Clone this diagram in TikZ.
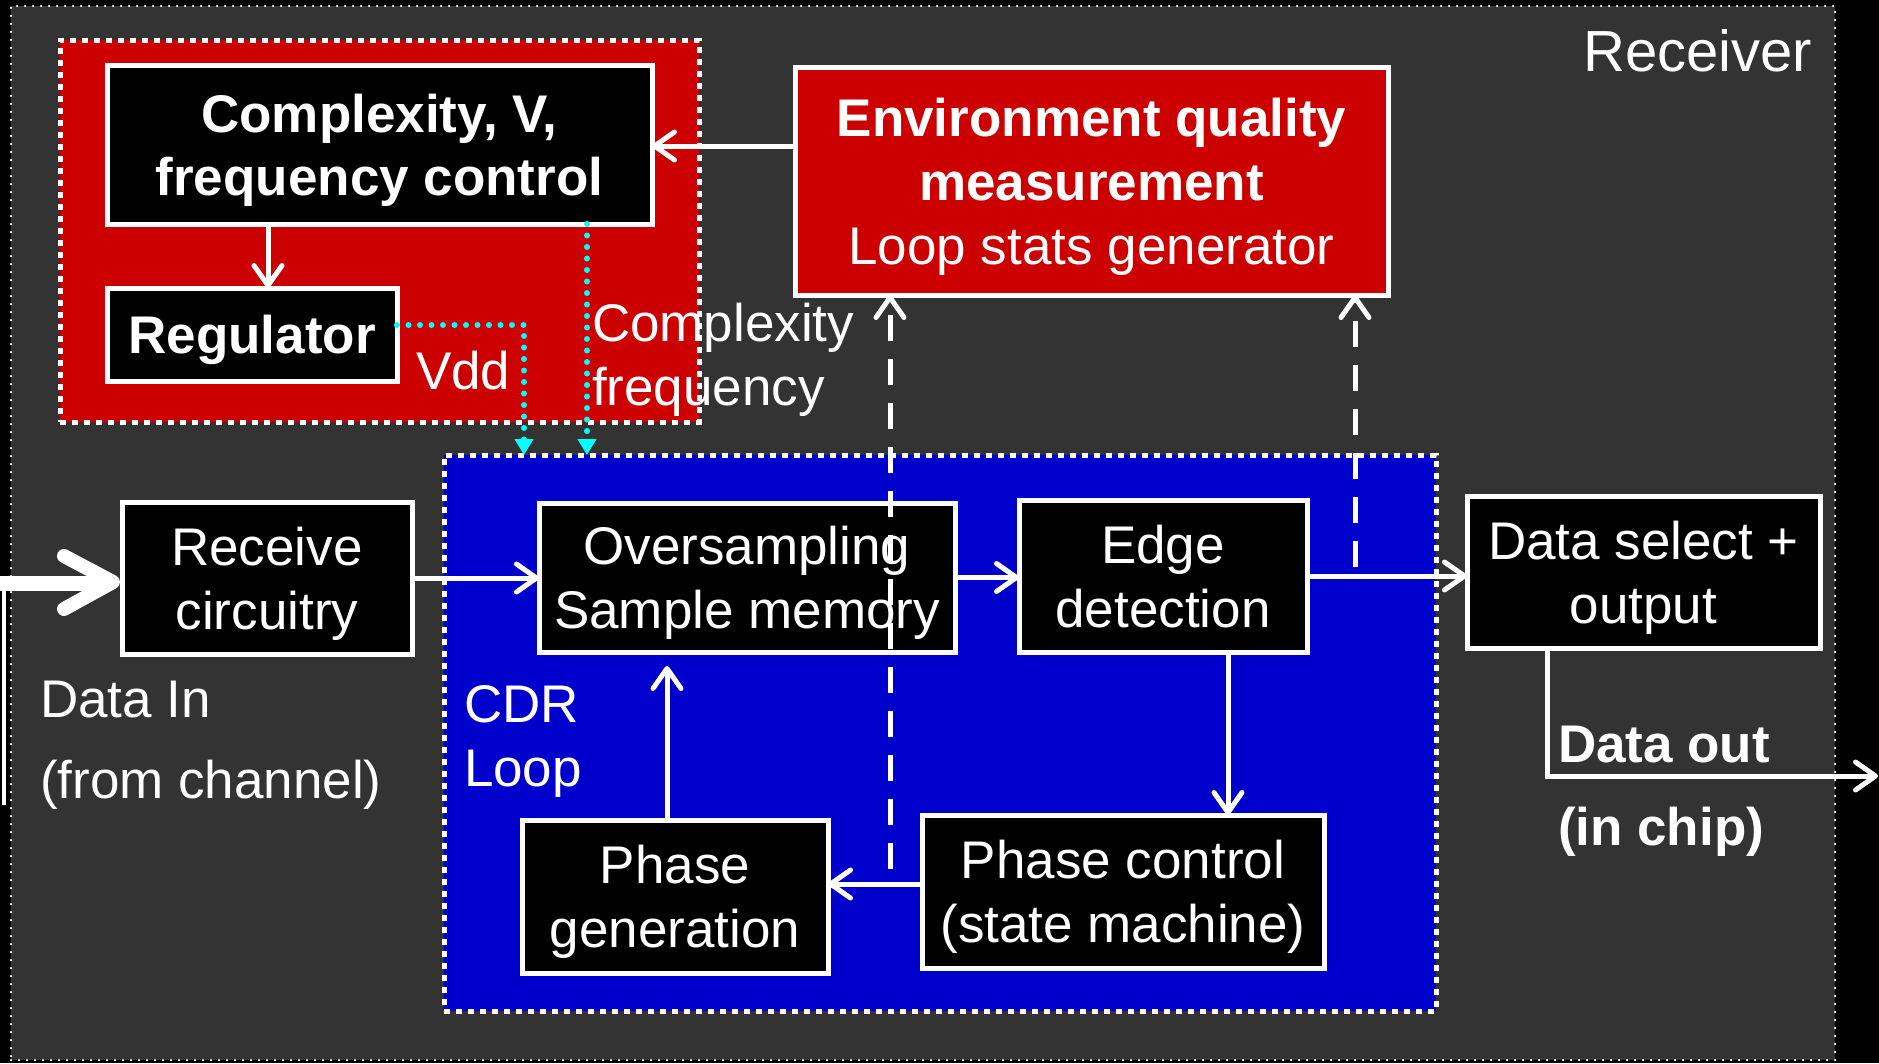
\documentclass[tikz,border=0pt]{standalone}
\usepackage{fontspec}
\setmainfont{Liberation Sans}
\usetikzlibrary{arrows.meta,calc}
\definecolor{bggray}{HTML}{333333}
\definecolor{boxred}{HTML}{CC0000}
\definecolor{boxblue}{HTML}{0000CC}
\definecolor{sigcyan}{HTML}{00FFFF}
\begin{document}
\begin{tikzpicture}[x=1pt,y=-1pt,
  blk/.style={draw=white, line width=5pt, fill=black, text=white, inner sep=0pt, outer sep=0pt, align=center, text depth=0pt, font=\fontsize{53}{64}\selectfont},
  bblk/.style={blk, font=\fontsize{53}{63}\selectfont\bfseries},
  grp/.style={draw=white, line width=5pt, dash pattern=on 6pt off 6pt, inner sep=0pt, outer sep=0pt},
  lbl/.style={text=white, inner sep=0pt, outer sep=0pt, anchor=west, align=left, font=\fontsize{53}{64}\selectfont},
  blbl/.style={lbl, font=\fontsize{53}{64}\selectfont\bfseries},
  arr/.style={draw=white, line width=5pt, -{Straight Barb[length=20pt,width=28pt,round]}},
  darr/.style={arr, dash pattern=on 26pt off 18pt},
  cyarr/.style={draw=sigcyan, line width=6pt, line cap=round, dash pattern=on 0pt off 11.5pt, -{Triangle[length=16pt,width=18pt,fill=sigcyan]}},
]
\fill[black] (0,0) rectangle (1879,1063);
\useasboundingbox (0,0) rectangle (1879,1063);

% outer receiver area
\node[draw=white, fill=bggray, line width=2.5pt, dash pattern=on 0pt off 8pt, line cap=round,
      minimum width=1824pt, minimum height=1054pt, inner sep=0pt, outer sep=0pt] (rx) at (923,533) {};
% group boxes
\node[grp, fill=boxred, minimum width=639pt, minimum height=382pt] (ctl) at (379.5,231) {};
\node[grp, fill=boxblue, minimum width=992pt, minimum height=556pt] (cdr) at (940,733) {};

% blocks
\node[bblk, minimum width=545pt, minimum height=159pt] (cfc) at (379.5,144.5) {Complexity, V,\\frequency control};
\node[bblk, minimum width=290pt, minimum height=93pt] (reg) at (252,334.5) {Regulator};
\node[blk, fill=boxred, minimum width=593pt, minimum height=228pt] (env) at (1091.5,181) {\textbf{Environment quality}\\\textbf{measurement}\\Loop stats generator};
\node[blk, minimum width=290pt, minimum height=152pt] (rcv) at (267,578) {Receive\\circuitry};
\node[blk, minimum width=416pt, minimum height=149pt] (ovs) at (747,577.5) {Oversampling\\Sample memory};
\node[blk, minimum width=288pt, minimum height=152pt] (edge) at (1163,576) {Edge\\detection};
\node[blk, minimum width=353pt, minimum height=152pt] (dsel) at (1643.5,572) {Data select +\\output};
\node[blk, minimum width=402pt, minimum height=153pt] (pctl) at (1123,891.5) {Phase control\\(state machine)};
\node[blk, minimum width=306pt, minimum height=153pt] (pgen) at (675,896.5) {Phase\\generation};

% labels
\node[lbl, anchor=east, font=\fontsize{58}{64}\selectfont] (recvl) at (1812,51) {Receiver};
\node[lbl] (vddl) at (416,371) {Vdd};
\node[lbl] (cfl) at (592,360) {Complexity\\frequency};
\node[lbl] (cdrl) at (464,741) {CDR\\Loop};
\node[lbl] (dil1) at (40,700) {Data In};
\node[lbl] (dil2) at (40,785) {(from channel)};
\node[blbl] (dol1) at (1558,745) {Data out};
\node[blbl] (dol2) at (1558,832) {(in chip)};

% connectors in the control group
\coordinate (yEnv) at (0,146);
\draw[arr] (env.west |- yEnv) -- (cfc.east |- yEnv);
\coordinate (xReg) at (268,0);
\draw[arr] (cfc.south -| xReg) -- (reg.north -| xReg);
\coordinate (vddc) at (524,325);
\draw[cyarr] (reg.east |- vddc) -- (vddc) -- (vddc |- cdr.north);
\coordinate (xCf) at (587,0);
\draw[cyarr] (cfc.south -| xCf) -- (cdr.north -| xCf);

% data input
\coordinate (din) at (0,583);
\draw[white, line width=15pt] (din) -- (104,583);
\draw[white, line width=14pt, line cap=round, line join=round] (64,556) -- (113,582) -- (64,609);
\draw[white, line width=4pt] (4,590) -- (4,805);

% data path
\draw[arr] (rcv.east) -- (rcv.east -| ovs.west);
\draw[arr] (ovs.east) -- (ovs.east -| edge.west);
\draw[arr] (edge.east) -- (edge.east -| dsel.west);
\coordinate (eS) at ([xshift=65pt]edge.south);
\draw[arr] (eS) -- (eS |- pctl.north);
\coordinate (pcW) at ([yshift=7.5pt]pctl.west);
\draw[arr] (pcW) -- (pcW -| pgen.east);
\coordinate (pgN) at ([xshift=-8pt]pgen.north);
\draw[arr, shorten >=14pt] (pgN) -- (pgN |- ovs.south);

% data out
\coordinate (dsx) at (1547,0);
\coordinate (dout) at (1878,776);
\draw[arr] (dsel.south -| dsx) -- (dsx |- dout) -- (dout);

% dashed loop-stat lines
\coordinate (dA) at (890,869);
\draw[darr] (dA) -- (dA |- env.south);
\coordinate (dB) at (1355,567);
\draw[darr] (dB) -- (dB |- env.south);
\end{tikzpicture}
\end{document}
